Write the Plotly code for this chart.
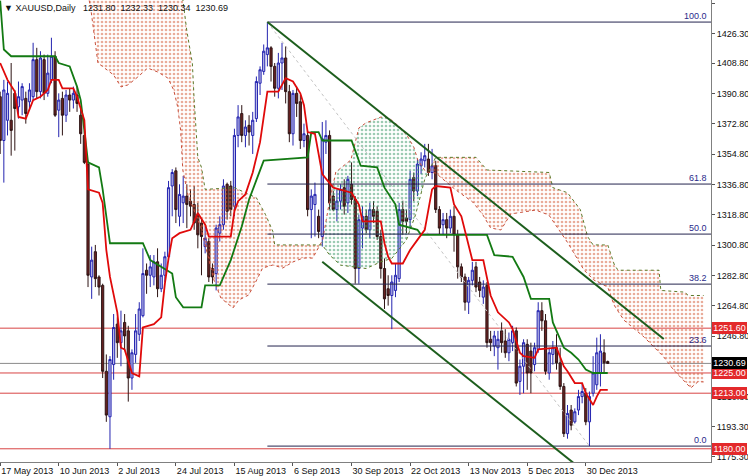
import numpy as np
import plotly.graph_objects as go

# ---------------- data ----------------
bar_open = [1389,1363,1375,1375,1391,1383,1387,1388,1386,1389,1411,1392,1411,1391,1399,1413,1381,1388,1378,1390,
            1387,1390,1378,1366,1349,1282,1297,1282,1277,1226,1199,1230,1254,1243,1255,1250,1222,1236,1248,1259,
            1286,1283,1282,1291,1275,1283,1294,1336,1345,1318,1326,1330,1327,1325,1319,1314,1300,1303,1287,1284,
            1308,1313,1337,1336,1324,1366,1379,1366,1372,1366,1376,1397,1404,1414,1418,1407,1394,1409,1412,1392,
            1367,1391,1386,1363,1366,1322,1325,1318,1306,1362,1366,1330,1322,1327,1335,1326,1337,1328,1287,1311,
            1318,1310,1322,1321,1306,1287,1275,1271,1274,1281,1322,1317,1316,1341,1333,1348,1351,1352,1344,1348,
            1322,1313,1316,1311,1318,1307,1288,1282,1267,1280,1288,1279,1270,1277,1245,1241,1240,1250,1244,1237,
            1243,1250,1220,1229,1242,1238,1230,1239,1262,1256,1225,1236,1240,1231,1217,1189,1203,1196,1203,1211,
            1213,1196,1213,1218,1225,1237,1231.80]
bar_high = [1392,1399,1398,1409,1393,1398,1397,1392,1397,1421,1418,1416,1414,1414,1424,1416,1391,1392,1393,1394,
            1395,1395,1383,1369,1351,1300,1301,1283,1278,1236,1235,1260,1258,1262,1260,1253,1239,1260,1267,1299,
            1290,1295,1295,1299,1290,1297,1339,1346,1347,1337,1342,1337,1334,1336,1326,1317,1312,1305,1290,1313,
            1318,1340,1338,1339,1370,1384,1384,1375,1378,1380,1401,1407,1420,1433.3,1419,1409,1415,1421,1419,1396,
            1393,1395,1390,1373,1369,1334,1338,1322,1374,1375,1369,1333,1334,1337,1340,1342,1350,1330,1319,1324,
            1322,1326,1327,1324,1310,1293,1283,1283,1290,1326,1327,1322,1345,1344,1352,1356,1361,1361,1358,1351,
            1324,1320,1320,1322,1324,1310,1290,1284,1282,1291,1291,1282,1280,1279,1250,1250,1250,1255,1251,1249,
            1253,1252,1233,1245,1245,1243,1243,1267,1267,1260,1240,1244,1248,1240,1219,1206,1206,1204,1215,1219,
            1216,1214,1235,1246,1248,1245,1232.33]
bar_low = [1355,1338,1366,1354,1357,1376,1378,1373,1381,1387,1388,1388,1387,1389,1397,1377,1365,1366,1374,1380,
           1382,1380,1361,1349,1276,1269,1276,1271,1222,1196,1180,1221,1234,1229,1238,1208,1215,1231,1244,1258,
           1272,1276,1277,1270,1273,1279,1292,1318,1314,1312,1314,1311,1318,1310,1299,1283,1296,1279,1278,1274,
           1303,1310,1316,1318,1318,1359,1362,1359,1360,1355,1374,1390,1402,1407,1398,1389,1388,1393,1385,1362,
           1360,1377,1358,1359,1318,1305,1306,1305,1300,1355,1322,1321,1315,1322,1319,1320,1325,1278,1278,1299,
           1308,1305,1314,1304,1281,1263,1265,1251,1270,1279,1307,1308,1311,1327,1330,1343,1347,1342,1340,1320,
           1307,1307,1305,1308,1297,1281,1279,1262,1260,1277,1273,1270,1266,1240,1238,1235,1227,1237,1234,1232,
           1238,1217,1212,1213,1215,1213,1226,1237,1250,1224,1221,1230,1227,1215,1187,1186,1191,1195,1200,1207,
           1194,1181.6,1211,1215,1217,1225,1230.34]
bar_close = [1363,1393,1391,1369,1382,1389,1395,1379,1393,1411,1392,1412,1391,1403,1413,1378,1387,1378,1390,1387,
             1391,1385,1367,1350,1283,1292,1281,1276,1226,1200,1233,1252,1243,1250,1247,1222,1237,1250,1263,1284,
             1283,1288,1291,1275,1283,1294,1335,1344,1322,1331,1330,1325,1324,1314,1307,1306,1305,1282,1282,1311,
             1313,1336,1321,1322,1366,1377,1366,1371,1368,1375,1398,1405,1416,1418,1407,1394,1409,1412,1392,1367,
             1391,1385,1363,1367,1322,1330,1331,1309,1364,1366,1326,1322,1327,1334,1324,1340,1328,1287,1316,1318,
             1310,1322,1318,1306,1287,1269,1271,1279,1283,1322,1315,1315,1340,1333,1349,1352,1354,1344,1348,1322,
             1311,1316,1311,1318,1307,1288,1282,1267,1280,1286,1276,1274,1276,1243,1243,1247,1245,1243,1237,1245,
             1250,1219,1229,1243,1225,1225,1240,1262,1256,1226,1237,1240,1231,1217,1189,1201,1194,1202,1211,1214,
             1196,1211,1225,1237,1238,1231,1230.69]
bar_index = list(range(len(bar_open)))

date_tick_index = [0, 16, 32, 48, 64, 80, 96, 112, 128, 144, 160]
date_tick_labels = ["17 May 2013", "10 Jun 2013", "2 Jul 2013", "24 Jul 2013", "15 Aug 2013", "6 Sep 2013",
                    "30 Sep 2013", "22 Oct 2013", "13 Nov 2013", "5 Dec 2013", "30 Dec 2013"]
price_ticks = [1444.30, 1426.30, 1408.80, 1390.80, 1372.80, 1354.80, 1336.80, 1318.80, 1300.80,
               1282.80, 1264.80, 1246.80, 1210.80, 1193.30, 1175.30]

# Ichimoku lines (vertices: bar index, price)
tenkan_i = [0,2,4,5,7,9,11,13,14,16,17,20,21,23,24,27,28,29,30,32,33,34,36,38,39,42,44,45,46,47,49,52,54,56,57,63,
            64,65,67,69,71,72,73,76,78,80,82,83,84,86,87,88,91,96,98,99,104,105,106,107,110,112,114,116,118,119,123,
            124,126,128,129,132,134,136,139,140,142,143,146,147,152,154,155,157,159,160,162,163,164,166]
tenkan_p = [1409,1399,1392,1377,1376,1387,1389,1393,1399,1399,1394,1394,1389,1375,1334,1332,1326,1298,1282,1261,
            1240,1239,1225,1223,1252,1254,1258,1278,1293,1305,1308,1310,1320,1313,1306,1306,1321,1327,1331,1344,
            1362,1378,1392,1392,1400,1398,1391,1384,1368,1367,1354,1343,1335,1332,1325,1315,1315,1302,1294,1290,
            1290,1298,1304,1310,1334,1336,1335,1325,1318,1301,1292,1292,1271,1261,1255,1251,1237,1235,1234,1239,
            1240,1229,1226,1219,1219,1213,1206,1211,1215,1215]
kijun_i = [0,1,3,15,16,19,21,22,23,24,27,28,30,39,41,45,47,48,50,55,56,60,63,66,68,72,84,85,87,88,96,98.5,103,105,
           108,109,114,115,133,135,140,143,145,150,151,154,156,158,160,162,166]
kijun_p = [1446,1417,1413,1413,1409,1407,1395,1387,1369,1350,1347,1334,1302,1302,1292,1287,1284,1270,1264,1264,
           1277,1277,1292,1312,1328,1351,1353,1368,1368,1363,1363,1348,1347,1335,1325,1313,1310,1307,1307,1295,
           1294,1282,1269,1269,1255,1240,1237,1233,1227,1225,1225]
spanA_i = [0,24,24.8,25.6,26.7,31,33,34.9,37.6,40.3,43,45.8,47.4,48.5,49.3,49.9,51.3,54.8,56.7,58.4,60.3,63.6,
           65.2,67.9,69.8,71.7,74.5,77.2,80,82.7,85.4,87,88.1,89.8,91.7,95.8,98,99.9,104,106.2,109.5,111.4,113,114.1,
           116.3,119,124.5,129.1,131.9,134,136.8,139.5,146.3,149.9,151.8,155.1,159.5,162.2,166,167.7,170.4,175.9,
           181.3,184,188.7,190.6,192.2]
spanA_p = [1480,1450,1440.5,1426.8,1409,1401.9,1394.8,1396,1400.7,1406,1403.7,1400.1,1393,1382.9,1369.2,1345.5,
           1330.6,1311.7,1295,1280.2,1269.5,1263.6,1268.3,1271.3,1279,1287.3,1289.1,1287.3,1290.9,1293.2,1293.2,
           1299.2,1303.9,1324.7,1344.3,1351.4,1370.4,1373.4,1376.9,1376.4,1370.4,1365.1,1359.1,1351.4,1344.3,1343.7,
           1333.6,1326.5,1318.8,1311.1,1309.9,1319.4,1321.7,1318.8,1312.8,1302.2,1286.1,1280.2,1276,1265.4,1256.4,
           1246.4,1234.5,1226.8,1216.1,1219.7,1219.7]
spanB_i = [0,24,49,50,51,52.5,53,54,55,56,64,70,72.5,74.5,75,88,90,93,100,104,107,111,113.5,116,119,130,133,150,
           151,155,158.5,160.5,162,166,168,169,180,180.5,187,188,192.2]
spanB_p = [1490,1475,1462,1446,1428,1409,1387,1353,1347,1334,1335,1329,1319,1309,1301,1301,1295,1289,1287,1291,
           1293,1304,1319,1340,1353,1353,1345.5,1344,1335,1332,1322,1306,1301,1301,1288,1286,1286,1274,1273,1271,1271]

# analyst drawings
fib_high, fib_low = 1433.3, 1181.6
fib_high_i, fib_low_i = 73, 161
fib_levels = [100.0, 61.8, 50.0, 38.2, 23.6, 0.0]
level_prices = [1251.60, 1225.00, 1213.00, 1180.00]
last_price = 1230.69
channel_upper_i, channel_upper_p = [73, 181.3], [1433.3, 1245.2]
channel_lower_i, channel_lower_p = [88, 157], [1291, 1171]

# ---------------- figure ----------------
X_RANGE = [-0.05, 194.21]
Y_RANGE = [1172.16, 1446.4]
FONT = 'Liberation Sans'
fig = go.Figure()

# cloud polygons
grid = np.union1d(spanA_i, spanB_i)
a = np.interp(grid, spanA_i, spanA_p)
b = np.interp(grid, spanB_i, spanB_p)
pts = []
for k in range(len(grid)):
    if k > 0:
        d0 = a[k-1] - b[k-1]
        d1 = a[k] - b[k]
        if d0 * d1 < 0:
            t = d0 / (d0 - d1)
            xc = grid[k-1] + t * (grid[k] - grid[k-1])
            yc = a[k-1] + t * (a[k] - a[k-1])
            pts.append((xc, yc, yc))
    pts.append((grid[k], a[k], b[k]))
segments = []
for k in range(len(pts) - 1):
    p, q = pts[k], pts[k+1]
    s = 1 if (p[1] - p[2]) + (q[1] - q[2]) > 0 else -1
    if segments and segments[-1][0] == s:
        segments[-1][1].append(q)
    else:
        segments.append([s, [p, q]])
for s, seg in segments:
    xs = [p[0] for p in seg] + [p[0] for p in seg[::-1]]
    ys = [p[1] for p in seg] + [p[2] for p in seg[::-1]]
    col = '#3A9868' if s > 0 else '#D45A36'
    fig.add_trace(go.Scatter(x=xs, y=ys, fill='toself', mode='none',
                             fillcolor='rgba(255,255,255,0)',
                             fillpattern=dict(shape='.', fgcolor=col, bgcolor='rgba(255,255,255,0)',
                                              size=4, solidity=0.36),
                             hoverinfo='skip', showlegend=False))
fig.add_trace(go.Scatter(x=spanA_i, y=spanA_p, mode='lines',
                         line=dict(color='#C8503C', width=1, dash='dot'), showlegend=False))
fig.add_trace(go.Scatter(x=spanB_i, y=spanB_p, mode='lines',
                         line=dict(color='#5C7A2A', width=1, dash='dot'), showlegend=False))

# fibonacci
fig.add_trace(go.Scatter(x=[fib_high_i, fib_low_i], y=[fib_high, fib_low], mode='lines',
                         line=dict(color='#C4C4C4', width=1, dash='dot'), showlegend=False))
for lv in fib_levels:
    pr = fib_low + (fib_high - fib_low) * lv / 100.0
    fig.add_trace(go.Scatter(x=[fib_high_i, X_RANGE[1] + 2], y=[pr, pr], mode='lines',
                             line=dict(color='#24244E', width=1), showlegend=False))
    fig.add_annotation(x=1, xref='paper', y=pr, yref='y', text=f"{lv:.1f}", showarrow=False,
                       xanchor='right', yanchor='bottom', xshift=-2, yshift=-1,
                       font=dict(family=FONT, size=9, color='#2A2A8A'))

# horizontal levels
for lvp in level_prices:
    fig.add_shape(type='line', xref='paper', x0=0, x1=1, yref='y', y0=lvp, y1=lvp,
                  line=dict(color='#D84444', width=1), layer='below')
fig.add_shape(type='line', xref='paper', x0=0, x1=1, yref='y', y0=last_price, y1=last_price,
              line=dict(color='#8A8A8A', width=1), layer='below')

# candles
fig.add_trace(go.Candlestick(x=bar_index, open=bar_open, high=bar_high, low=bar_low, close=bar_close,
                             increasing=dict(line=dict(color='#2424B0', width=1), fillcolor='#BEBEEA'),
                             decreasing=dict(line=dict(color='#2E1414', width=1), fillcolor='#6A2222'),
                             whiskerwidth=0, showlegend=False, hoverinfo='skip'))

# tenkan / kijun
fig.add_trace(go.Scatter(x=kijun_i, y=kijun_p, mode='lines', line=dict(color='#137A13', width=1.8),
                         showlegend=False))
fig.add_trace(go.Scatter(x=tenkan_i, y=tenkan_p, mode='lines', line=dict(color='#E00A0A', width=1.8),
                         showlegend=False))

# channel
fig.add_trace(go.Scatter(x=channel_upper_i, y=channel_upper_p, mode='lines',
                         line=dict(color='#1D5E1D', width=2), showlegend=False))
fig.add_trace(go.Scatter(x=channel_lower_i, y=channel_lower_p, mode='lines',
                         line=dict(color='#1D5E1D', width=2), showlegend=False))

# price boxes
for lvp in level_prices:
    fig.add_annotation(x=1, xref='paper', y=lvp, yref='y', text=f"{lvp:.2f}", showarrow=False,
                       xanchor='left', yanchor='middle', xshift=1, bgcolor='#E3292B', width=33,
                       borderpad=1, borderwidth=0, font=dict(family=FONT, size=9, color='white'))
fig.add_annotation(x=1, xref='paper', y=last_price, yref='y', text=f"{last_price:.2f}", showarrow=False,
                   xanchor='left', yanchor='middle', xshift=1, bgcolor='#000000', width=33,
                   borderpad=1, borderwidth=0, font=dict(family=FONT, size=9, color='white'))

# title
fig.add_annotation(x=0, xref='paper', y=1, yref='paper', xanchor='left', yanchor='top', xshift=2, yshift=-1,
                   text="▼ XAUUSD,Daily   %.2f  %.2f  %.2f  %.2f" % (bar_open[-1], bar_high[-1], bar_low[-1], bar_close[-1]),
                   showarrow=False, font=dict(family=FONT, size=9, color='#111111'))

fig.update_layout(
    width=748, height=476, margin=dict(l=0, r=37, t=0, b=14, autoexpand=False),
    paper_bgcolor='white', plot_bgcolor='white', showlegend=False, boxgap=0.15,
    xaxis=dict(range=X_RANGE, showgrid=False, zeroline=False, rangeslider=dict(visible=False),
               automargin=False, tickangle=0,
               tickvals=date_tick_index, ticktext=date_tick_labels, ticks='outside', ticklen=3,
               tickcolor='#555555', ticklabelposition='outside right', showline=True, linecolor='#808080',
               tickfont=dict(family=FONT, size=9, color='#111111')),
    yaxis=dict(range=Y_RANGE, side='right', showgrid=False, zeroline=False, automargin=False,
               tickvals=price_ticks, ticktext=[f"{v:.2f}" for v in price_ticks], ticks='outside', ticklen=3,
               tickcolor='#555555', showline=True, linecolor='#808080',
               tickfont=dict(family=FONT, size=9, color='#111111')),
)
fig.write_html("out.html", config={'displayModeBar': False},
               post_script="document.body.style.margin='0';document.body.style.padding='0';")
